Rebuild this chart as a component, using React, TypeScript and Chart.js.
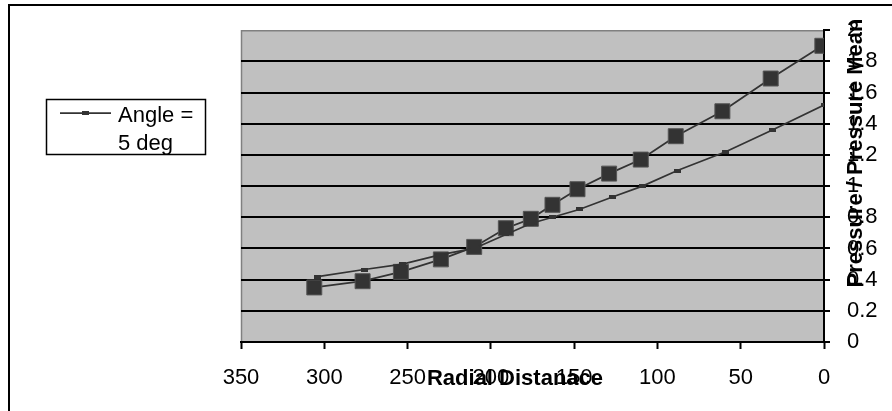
import React, { useEffect, useRef } from "react";
import { Chart, registerables } from "chart.js";
Chart.register(...registerables);

const xTickValues = [350, 300, 250, 200, 150, 100, 50, 0];
const yTickValues = [0, 0.2, 0.4, 0.6, 0.8, 1, 1.2, 1.4, 1.6, 1.8, 2];
const yTickLabels = ["0", "0.2", "0.4", "0.6", "0.8", "1", "1.2", "1.4", "1.6", "1.8", "2"];
const xTitle = "Radial Distanace";
const yTitle = "Pressure / Pressure Mean";
const legendLines = ["Angle =", "5 deg"];

// Series shown in legend (small markers)
const angle5X = [304, 276, 253, 230, 210, 191, 176, 163, 147, 127, 109, 88, 59, 31, 0];
const angle5Y = [0.42, 0.465, 0.5, 0.56, 0.6, 0.69, 0.76, 0.8, 0.85, 0.93, 1.0, 1.1, 1.22, 1.36, 1.52];
// Series with large square markers
const squareX = [306, 277, 254, 230, 210, 191, 176, 163, 148, 129, 110, 89, 61, 32, 1];
const squareY = [0.35, 0.39, 0.45, 0.53, 0.61, 0.73, 0.79, 0.88, 0.98, 1.08, 1.17, 1.32, 1.48, 1.69, 1.9];

const FONT = '"Liberation Sans", Arial, sans-serif';

function smallMarker(): HTMLCanvasElement {
  const c = document.createElement("canvas");
  c.width = 7;
  c.height = 4;
  const g = c.getContext("2d")!;
  g.fillStyle = "#333333";
  g.fillRect(0, 0, 7, 4);
  return c;
}

const decor = {
  id: "decor",
  beforeDraw(chart: any) {
    const { ctx, chartArea: a } = chart;
    ctx.save();
    ctx.fillStyle = "#ffffff";
    ctx.fillRect(0, 0, chart.width, chart.height);
    ctx.fillStyle = "#C0C0C0";
    ctx.fillRect(a.left, a.top, a.right - a.left, a.bottom - a.top);
    ctx.strokeStyle = "#808080";
    ctx.lineWidth = 1.5;
    ctx.beginPath();
    ctx.moveTo(a.left + 0.5, a.bottom);
    ctx.lineTo(a.left + 0.5, a.top + 0.5);
    ctx.lineTo(a.right, a.top + 0.5);
    ctx.stroke();
    ctx.restore();
  },
  afterDraw(chart: any) {
    const { ctx } = chart;
    ctx.save();
    // outer chart border
    ctx.strokeStyle = "#000000";
    ctx.lineWidth = 2;
    ctx.beginPath();
    ctx.moveTo(9, 411);
    ctx.lineTo(9, 5);
    ctx.lineTo(892, 5);
    ctx.stroke();

    // axis titles
    ctx.fillStyle = "#000000";
    ctx.font = `bold 22px ${FONT}`;
    ctx.textAlign = "center";
    ctx.textBaseline = "middle";
    ctx.fillText(xTitle, 515, 379);
    ctx.save();
    ctx.translate(856, 153);
    ctx.rotate(-Math.PI / 2);
    ctx.fillText(yTitle, 0, 0);
    ctx.restore();

    // legend
    ctx.strokeStyle = "#000000";
    ctx.lineWidth = 1.5;
    ctx.strokeRect(46.5, 99.5, 159, 55);
    ctx.strokeStyle = "#333333";
    ctx.lineWidth = 1.75;
    ctx.beginPath();
    ctx.moveTo(60, 113);
    ctx.lineTo(111, 113);
    ctx.stroke();
    ctx.fillStyle = "#333333";
    ctx.fillRect(82, 111, 7, 4);
    ctx.fillStyle = "#000000";
    ctx.font = `22px ${FONT}`;
    ctx.textAlign = "left";
    ctx.textBaseline = "alphabetic";
    ctx.fillText(legendLines[0], 118, 122);
    ctx.fillText(legendLines[1], 118, 150);
    ctx.restore();
  },
};

export default function App() {
  const ref = useRef<HTMLCanvasElement | null>(null);
  useEffect(() => {
    if (!ref.current) return;
    Chart.defaults.font.family = FONT;
    Chart.defaults.font.size = 22;
    Chart.defaults.color = "#000000";
    const marker = smallMarker();
    const chart = new Chart(ref.current, {
      type: "line",
      data: {
        datasets: [
          {
            label: legendLines.join(" "),
            data: angle5X.map((x, i) => ({ x, y: angle5Y[i] })),
            borderColor: "#333333",
            borderWidth: 1.75,
            pointStyle: marker as any,
            pointRadius: 4,
            backgroundColor: "#333333",
          },
          {
            label: "",
            data: squareX.map((x, i) => ({ x, y: squareY[i] })),
            borderColor: "#333333",
            borderWidth: 1.75,
            pointStyle: "rect",
            pointRadius: 10.6,
            pointBackgroundColor: "#333333",
            pointBorderColor: "#555555",
            pointBorderWidth: 1,
          },
        ],
      },
      options: {
        responsive: false,
        animation: false,
        maintainAspectRatio: false,
        layout: { padding: { left: 241, top: 16, right: 0, bottom: 0 } },
        plugins: {
          legend: { display: false },
          tooltip: { enabled: false },
        },
        scales: {
          x: {
            type: "linear",
            reverse: true,
            min: 0,
            max: 350,
            afterBuildTicks: (s: any) => {
              s.ticks = xTickValues.map((v) => ({ value: v }));
            },
            afterFit: (s: any) => {
              s.height = 69;
            },
            ticks: {
              autoSkip: false,
              maxRotation: 0,
              padding: 16,
              font: { size: 22 },
              callback: (v: any) => String(v),
            },
            grid: { drawOnChartArea: false, drawTicks: true, tickLength: 7, tickColor: "#000000", tickWidth: 2 },
            border: { color: "#000000", width: 2 },
          },
          y: {
            type: "linear",
            position: "right",
            min: 0,
            max: 2,
            afterBuildTicks: (s: any) => {
              s.ticks = yTickValues.map((v) => ({ value: v }));
            },
            afterFit: (s: any) => {
              s.width = 68;
            },
            ticks: {
              autoSkip: false,
              padding: 17,
              font: { size: 22 },
              callback: (_v: any, i: number) => yTickLabels[i],
            },
            grid: {
              drawTicks: true,
              tickLength: 6,
              lineWidth: 2,
              color: (c: any) => (c.tick && c.tick.value === 2 ? "rgba(0,0,0,0)" : "#000000"),
              tickColor: "#000000",
              tickWidth: 2,
            },
            border: { color: "#000000", width: 2 },
          },
        },
      },
      plugins: [decor],
    });
    return () => chart.destroy();
  }, []);
  return (
    <div style={{ position: "absolute", left: 0, top: 0, width: 892, height: 411 }}>
      <canvas ref={ref} width={892} height={411} />
    </div>
  );
}
